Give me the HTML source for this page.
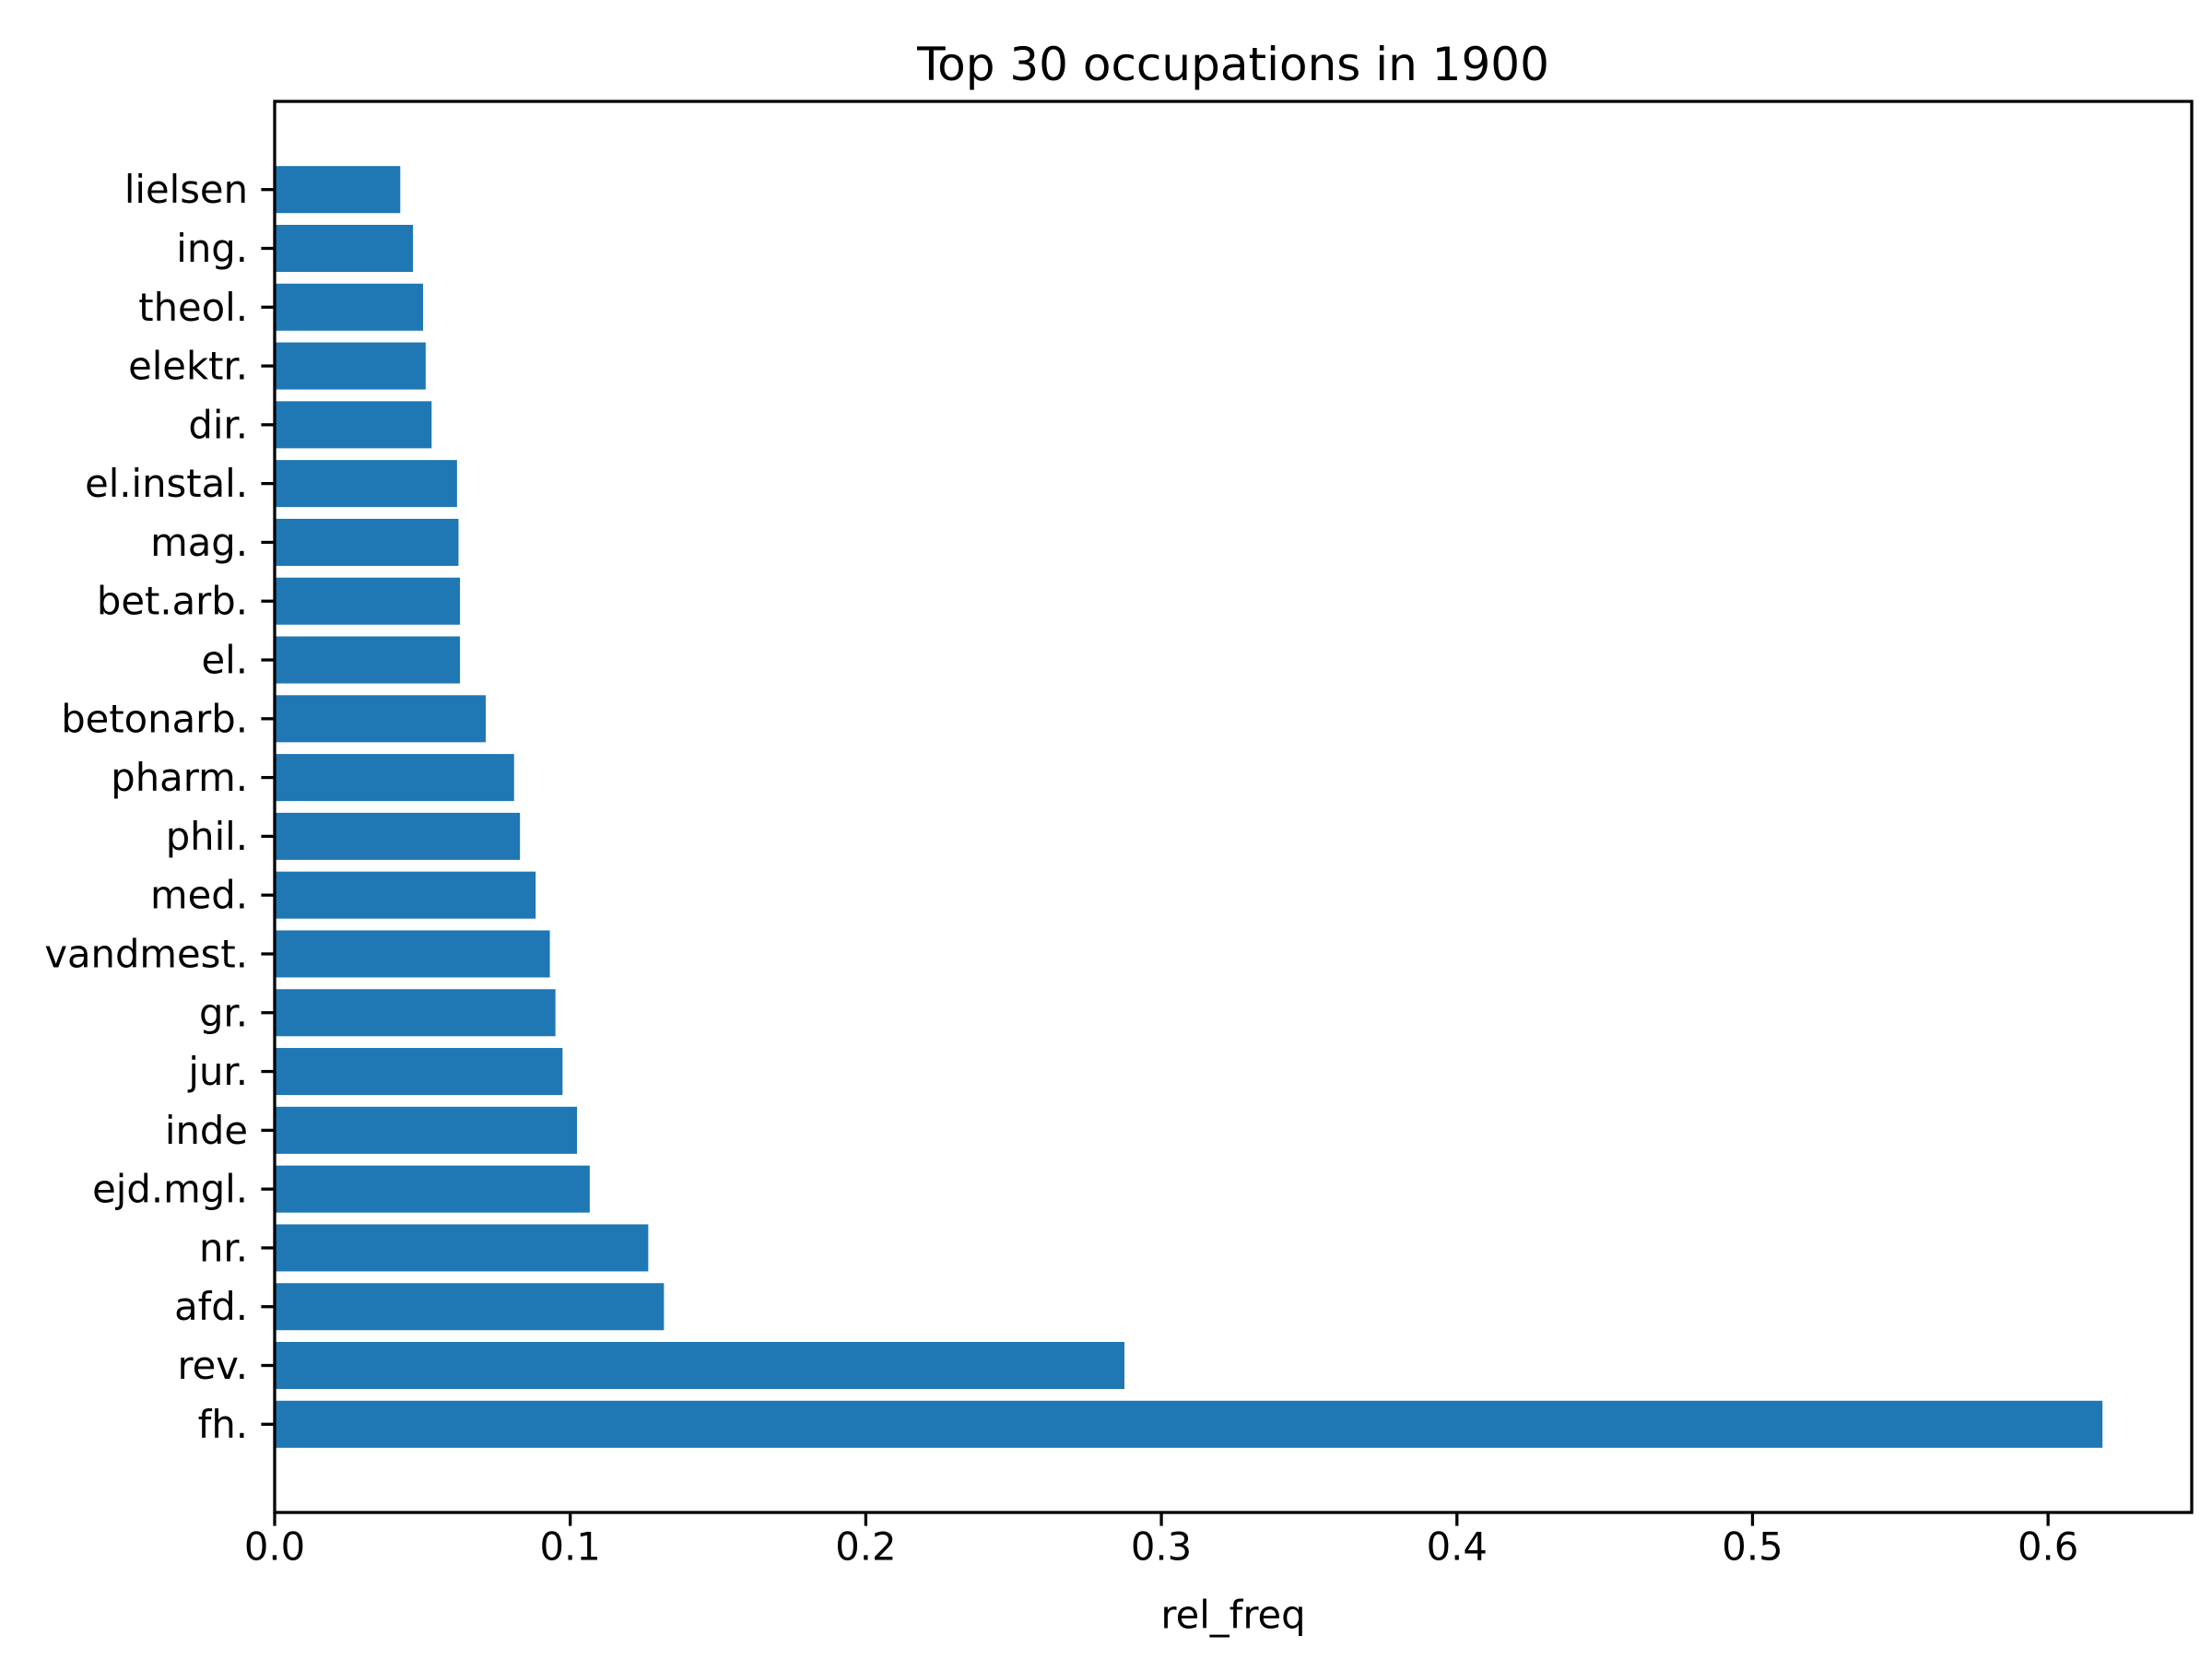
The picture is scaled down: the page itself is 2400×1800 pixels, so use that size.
<!DOCTYPE html>
<html><head><meta charset="utf-8"><style>
html,body{margin:0;padding:0;background:#fff;}
svg{display:block;font-family:"DejaVu Sans","Liberation Sans",sans-serif;}
</style></head><body>
<svg id="chart" width="2400" height="1800" viewBox="0 0 2400 1800">
<rect x="0" y="0" width="2400" height="1800" fill="#fff"/>
<text x="1338" y="70" font-size="50" text-anchor="middle" dominant-baseline="central">Top 30 occupations in 1900</text>
<g id="bars"></g>
<g id="yticks"></g>
<g id="xticks"></g>
<rect x="298" y="110" width="2080" height="1531" fill="none" stroke="#000" stroke-width="3.3"/>
<text x="1338" y="1752" font-size="41.7" text-anchor="middle" dominant-baseline="central">rel_freq</text>
</svg>
<script>
const categories = ["fh.","rev.","afd.","nr.","ejd.mgl.","inde","jur.","gr.","vandmest.","med.","phil.","pharm.","betonarb.","el.","bet.arb.","mag.","el.instal.","dir.","elektr.","theol.","ing.","lielsen"];
const values = [0.6184,0.2875,0.1317,0.1264,0.1066,0.1023,0.0974,0.095,0.0931,0.0883,0.083,0.081,0.0714,0.0627,0.0627,0.0622,0.0617,0.0531,0.0511,0.0502,0.0468,0.0425];
const xTicks = [0,0.1,0.2,0.3,0.4,0.5,0.6];
const xTickLabels = ["0.0","0.1","0.2","0.3","0.4","0.5","0.6"];

const L=298,R=2378,T=110,B=1641;
const xMin=0,xMax=0.6486;
const yMin=-1.5,yMax=22.5;
const NS="http://www.w3.org/2000/svg";
function xs(v){return L+(v-xMin)/(xMax-xMin)*(R-L);}
function ys(i){return B-(i-yMin)/(yMax-yMin)*(B-T);}
const unit=(B-T)/(yMax-yMin);
const bars=document.getElementById('bars');
const yt=document.getElementById('yticks');
const xt=document.getElementById('xticks');
categories.forEach((c,i)=>{
  const cy=ys(i);
  const r=document.createElementNS(NS,'rect');
  r.setAttribute('x',xs(0));
  r.setAttribute('y',cy-0.4*unit);
  r.setAttribute('width',xs(values[i])-xs(0));
  r.setAttribute('height',0.8*unit);
  r.setAttribute('fill','#1f77b4');
  
  
  bars.appendChild(r);
  const tk=document.createElementNS(NS,'line');
  tk.setAttribute('x1',L-14.6);tk.setAttribute('x2',L);
  tk.setAttribute('y1',cy);tk.setAttribute('y2',cy);
  tk.setAttribute('stroke','#000');tk.setAttribute('stroke-width','3.3');
  
  
  yt.appendChild(tk);
  const t=document.createElementNS(NS,'text');
  t.setAttribute('x',L-29);t.setAttribute('y',cy);
  t.setAttribute('font-size','41.7');t.setAttribute('text-anchor','end');
  t.setAttribute('dominant-baseline','central');
  t.textContent=c;
  
  
  yt.appendChild(t);
});
xTicks.forEach((v,i)=>{
  const x=xs(v);
  const tk=document.createElementNS(NS,'line');
  tk.setAttribute('x1',x);tk.setAttribute('x2',x);
  tk.setAttribute('y1',B);tk.setAttribute('y2',B+14.6);
  tk.setAttribute('stroke','#000');tk.setAttribute('stroke-width','3.3');
  
  
  xt.appendChild(tk);
  const t=document.createElementNS(NS,'text');
  t.setAttribute('x',x);t.setAttribute('y',1678);
  t.setAttribute('font-size','41.7');t.setAttribute('text-anchor','middle');
  t.setAttribute('dominant-baseline','central');
  t.textContent=xTickLabels[i];
  
  
  xt.appendChild(t);
});
</script>
</body></html>
